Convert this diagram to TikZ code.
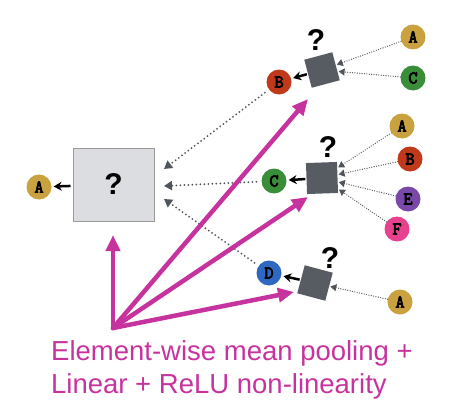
\documentclass[tikz,border=0pt]{standalone}
\usepackage{fontspec}
\setmainfont{Liberation Sans}
\newfontfamily\monof[FakeBold=4]{Latin Modern Mono}
\usetikzlibrary{arrows.meta}
\definecolor{cgold}{HTML}{C9A23F}
\definecolor{cred}{HTML}{C0391B}
\definecolor{cgreen}{HTML}{3A8E3A}
\definecolor{cpurple}{HTML}{7A48A8}
\definecolor{cpink}{HTML}{E8418F}
\definecolor{cblue}{HTML}{2F68C2}
\definecolor{cdark}{HTML}{575C63}
\definecolor{cbox}{HTML}{DCDDE0}
\definecolor{cboxd}{HTML}{9A9A9A}
\definecolor{cmag}{HTML}{C7339E}
\definecolor{cdot}{HTML}{50555B}
\tikzset{
  x=1pt, y=-1pt,
  ball/.style={circle, minimum size=25pt, inner sep=0pt, fill=#1, font=\monof\fontsize{18}{18}\selectfont},
  sq/.style={draw=none, fill=cdark, minimum size=29pt, inner sep=0pt},
  qmark/.style={font=\bfseries\fontsize{30}{30}\selectfont, inner sep=0pt},
  bigdot/.style={draw=cdot, line width=2pt, dash pattern=on 0pt off 4pt, line cap=round, -{Triangle[length=8pt,width=9pt]}},
  smalldot/.style={draw=cdot, line width=1.3pt, dash pattern=on 0pt off 2.4pt, line cap=round, -{Triangle[length=6pt,width=7pt]}},
  blk/.style={draw=black, line width=2.5pt, -{Stealth[length=8pt,width=9pt]}},
  mag/.style={draw=cmag, line width=4.5pt, -{Triangle[length=16pt,width=14pt]}},
}
\begin{document}
\begin{tikzpicture}
\useasboundingbox (0,0) rectangle (462,412);
% big box
\node[draw=cboxd, fill=cbox, line width=1pt, minimum width=81pt, minimum height=73pt, inner sep=0pt] (big) at (113.5,184.5) {};
\node[qmark] (qbig) at (113.5,184.5) {?};
\node[ball=cgold] (A0) at (39,187) {A};
% top group
\node[sq, rotate=15] (s1) at (322,70) {};
\node[qmark] (q1) at (316,40) {?};
\node[ball=cred] (B1) at (279,82) {B};
\node[ball=cgold] (A1) at (413,37) {A};
\node[ball=cgreen] (C1) at (413,78) {C};
% middle group
\node[sq, rotate=2, minimum size=31pt] (s2) at (322,178) {};
\node[qmark] (q2) at (328,147) {?};
\node[ball=cgreen] (C2) at (274,181) {C};
\node[ball=cgold] (A2) at (402,126) {A};
\node[ball=cred] (B2) at (410,159) {B};
\node[ball=cpurple] (E2) at (408,199) {E};
\node[ball=cpink] (F2) at (397,229) {F};
% bottom group
\node[sq, rotate=-15] (s3) at (315,283) {};
\node[qmark] (q3) at (330,258) {?};
\node[ball=cblue] (D3) at (269,273) {D};
\node[ball=cgold] (A3) at (400,302) {A};
% small dotted arrows into squares
\draw[smalldot, shorten >=1pt] (A1) -- (s1);
\draw[smalldot, shorten >=1pt] (C1) -- (s1);
\draw[smalldot, shorten >=1pt] (A2) -- (s2);
\draw[smalldot, shorten >=1pt] (B2) -- (s2);
\draw[smalldot, shorten >=1pt] (E2) -- (s2);
\draw[smalldot, shorten >=1pt] (F2) -- (s2);
\draw[smalldot, shorten >=1pt] (A3) -- (s3);
% black arrows square -> ball
\draw[blk, shorten >=2pt, shorten <=1pt] (s1) -- (B1);
\draw[blk, shorten >=2pt, shorten <=1pt] (s2) -- (C2);
\draw[blk, shorten >=2pt, shorten <=1pt] (s3) -- (D3);
\draw[blk, shorten >=2pt, shorten <=2pt] (big) -- (A0);
% dotted arrows into big box
\coordinate (t1) at (164,169);
\coordinate (t2) at (164,186);
\coordinate (t3) at (164,199);
\draw[bigdot, shorten <=5pt] (B1) -- (t1);
\draw[bigdot, shorten <=5pt] (C2) -- (t2);
\draw[bigdot, shorten <=5pt] (D3) -- (t3);
% magenta arrows
\coordinate (o) at (113,328);
\coordinate (m0) at (113,235);
\coordinate (m1) at (308,99);
\coordinate (m2) at (308,197);
\coordinate (m3) at (294,292);
\draw[mag, line cap=round] (o) -- (m0);
\draw[mag, line cap=round] (o) -- (m1);
\draw[mag, line cap=round] (o) -- (m2);
\draw[mag, line cap=round] (o) -- (m3);
% caption
\node[anchor=base west, inner sep=0pt, text=cmag, font=\fontsize{27.5}{33}\selectfont, align=left] (cap) at (51,393) {Element-wise mean pooling +\\Linear + ReLU non-linearity};
\end{tikzpicture}
\end{document}
